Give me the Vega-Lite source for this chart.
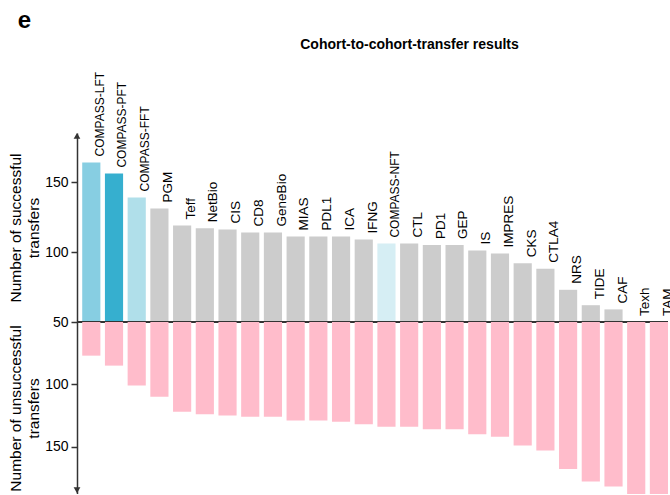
{
  "$schema": "https://vega.github.io/schema/vega-lite/v6.json",
  "padding": {"left": 8, "top": 8, "right": 0, "bottom": 0},
  "title": {"text": "e", "anchor": "start", "frame": "bounds", "fontSize": 24, "fontWeight": "bold", "dx": 9, "offset": 5, "color": "#000000"},
  "datasets": {
    "transfers": [
      {"method": "COMPASS-LFT", "group": "COMPASS-LFT", "success": 164, "fail": 77},
      {"method": "COMPASS-PFT", "group": "COMPASS-PFT", "success": 156, "fail": 85},
      {"method": "COMPASS-FFT", "group": "COMPASS-FFT", "success": 139, "fail": 101},
      {"method": "PGM", "group": "other", "success": 131, "fail": 110},
      {"method": "Teff", "group": "other", "success": 119, "fail": 122},
      {"method": "NetBio", "group": "other", "success": 117, "fail": 124},
      {"method": "CIS", "group": "other", "success": 116, "fail": 125},
      {"method": "CD8", "group": "other", "success": 114, "fail": 126},
      {"method": "GeneBio", "group": "other", "success": 114, "fail": 126},
      {"method": "MIAS", "group": "other", "success": 111, "fail": 129},
      {"method": "PDL1", "group": "other", "success": 111, "fail": 129},
      {"method": "ICA", "group": "other", "success": 111, "fail": 130},
      {"method": "IFNG", "group": "other", "success": 109, "fail": 132},
      {"method": "COMPASS-NFT", "group": "COMPASS-NFT", "success": 106, "fail": 134},
      {"method": "CTL", "group": "other", "success": 106, "fail": 134},
      {"method": "PD1", "group": "other", "success": 105, "fail": 136},
      {"method": "GEP", "group": "other", "success": 105, "fail": 136},
      {"method": "IS", "group": "other", "success": 101, "fail": 140},
      {"method": "IMPRES", "group": "other", "success": 99, "fail": 142},
      {"method": "CKS", "group": "other", "success": 92, "fail": 149},
      {"method": "CTLA4", "group": "other", "success": 88, "fail": 153},
      {"method": "NRS", "group": "other", "success": 73, "fail": 168},
      {"method": "TIDE", "group": "other", "success": 62, "fail": 178},
      {"method": "CAF", "group": "other", "success": 59, "fail": 182},
      {"method": "Texh", "group": "other", "success": 50, "fail": 191},
      {"method": "TAM", "group": "other", "success": 50, "fail": 191}
    ]
  },
  "spacing": 0,
  "bounds": "flush",
  "vconcat": [
    {
      "width": 591,
      "height": 189,
      "data": {"name": "transfers"},
      "title": {"text": "Cohort-to-cohort-transfer results", "fontSize": 14, "fontWeight": "bold", "anchor": "middle", "frame": "group", "dx": 37, "offset": 20, "color": "#000000"},
      "layer": [
        {
          "mark": {"type": "bar"},
          "encoding": {
            "x": {"field": "method", "type": "nominal", "sort": null,
                  "scale": {"paddingInner": 0.2, "paddingOuter": 0.115, "align": 1}, "axis": null},
            "y": {"field": "success", "type": "quantitative",
                  "scale": {"domain": [50, 185], "zero": false, "nice": false},
                  "axis": {"values": [50, 100, 150], "title": ["Number of successful", "transfers"]}},
            "y2": {"datum": 50},
            "color": {"field": "group", "type": "nominal", "legend": null,
                      "scale": {"domain": ["COMPASS-LFT", "COMPASS-PFT", "COMPASS-FFT", "COMPASS-NFT", "other"],
                                "range": ["#87cee2", "#36afcf", "#b0dfea", "#d6eef4", "#cccccc"]}}
          }
        },
        {
          "mark": {"type": "text", "angle": 270, "align": "left", "baseline": "middle", "dx": 6, "color": "#000000"},
          "encoding": {
            "x": {"field": "method", "type": "nominal", "sort": null,
                  "scale": {"paddingInner": 0.2, "paddingOuter": 0.115, "align": 1}, "axis": null},
            "y": {"field": "success", "type": "quantitative"},
            "text": {"field": "method"},
            "size": {"condition": {"test": "indexof(datum.method, 'COMPASS') === 0", "value": 12}, "value": 13.5}
          }
        },
        {
          "mark": {"type": "rule", "color": "#333333", "strokeWidth": 1.8},
          "encoding": {"y": {"datum": 50}}
        },
        {
          "data": {"values": [{"end": "top"}]},
          "mark": {"type": "point", "shape": "triangle-up", "filled": true, "size": 45, "color": "#333333", "opacity": 1},
          "encoding": {
            "x": {"datum": 0, "type": "quantitative", "scale": {"domain": [0, 1]}, "axis": null},
            "y": {"datum": 183, "type": "quantitative"}
          }
        }
      ],
      "resolve": {"scale": {"x": "independent"}}
    },
    {
      "width": 591,
      "height": 172,
      "data": {"name": "transfers"},
      "layer": [
        {
          "mark": {"type": "bar", "clip": true, "color": "#ffbccb"},
          "encoding": {
            "x": {"field": "method", "type": "nominal", "sort": null,
                  "scale": {"paddingInner": 0.2, "paddingOuter": 0.115, "align": 1}, "axis": null},
            "y": {"field": "fail", "type": "quantitative",
                  "scale": {"domain": [50, 188], "reverse": true, "zero": false, "nice": false},
                  "axis": {"values": [100, 150], "title": ["Number of unsuccessful", "transfers"]}},
            "y2": {"datum": 50}
          }
        },
        {
          "data": {"values": [{"end": "bottom"}]},
          "mark": {"type": "point", "shape": "triangle-down", "filled": true, "size": 45, "color": "#333333", "opacity": 1},
          "encoding": {
            "x": {"datum": 0, "type": "quantitative", "scale": {"domain": [0, 1]}, "axis": null},
            "y": {"datum": 185, "type": "quantitative"}
          }
        }
      ],
      "resolve": {"scale": {"x": "independent"}}
    }
  ],
  "config": {
    "font": "Liberation Sans",
    "view": {"stroke": null},
    "axis": {
      "domainColor": "#333333", "domainWidth": 1.5,
      "tickColor": "#333333", "tickWidth": 1.5, "tickSize": 6,
      "labelFontSize": 14, "labelColor": "#000000", "labelPadding": 3,
      "titleFontSize": 15.5, "titleFontWeight": "normal", "titleColor": "#000000",
      "titlePadding": 3, "titleLineHeight": 18, "grid": false
    }
  }
}
